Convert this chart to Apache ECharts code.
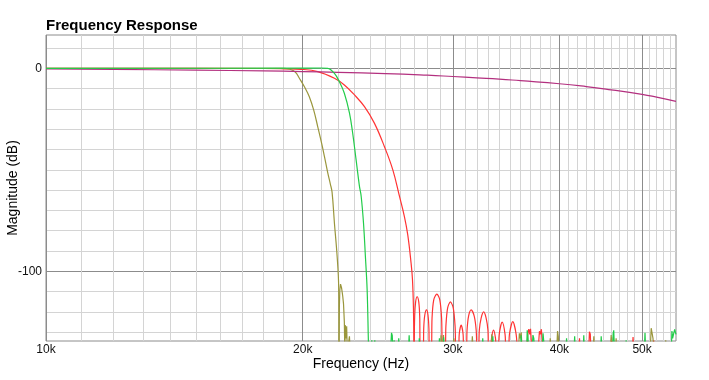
<!DOCTYPE html>
<html><head><meta charset="utf-8">
<script src="https://cdn.jsdelivr.net/npm/echarts@6/dist/echarts.min.js"></script>
<style>html,body{margin:0;padding:0;background:#fff}#c{width:709px;height:380px}</style>
</head><body><div id="c"></div>
<script>
const xMin = 10000, xMax = 54800;
const yMin = -134.3, yMax = 16.4;
const xMajorTicks = [10000, 20000, 30000, 40000, 50000];
const xMinorTicks = [11000,12000,13000,14000,15000,16000,17000,18000,19000,
  21000,22000,23000,24000,25000,26000,27000,28000,29000,
  31000,32000,33000,34000,35000,36000,37000,38000,39000,
  41000,42000,43000,44000,45000,46000,47000,48000,49000,
  51000,52000,53000,54000];
const yMajorTicks = [-100, 0];
const yMinorTicks = [10,-10,-20,-30,-40,-50,-60,-70,-80,-90,-110,-120,-130];

const magentaData = [[10000,-0.35],[12000,-0.55],[15000,-0.9],[18000,-1.3],[20000,-1.6],[22000,-2.0],[25000,-2.6],[28000,-3.4],[30000,-4.05],[32000,-4.7],[34000,-5.3],[36000,-6.1],[40000,-7.6],[43000,-9.0],[46000,-10.6],[50000,-12.8],[52000,-14.2],[54800,-16.3]];

const oliveMain = [[10000,0],[19000,0],[19300,-0.4],[19600,-1.8],[19820,-4.9],[20100,-9.2],[20360,-14],[20600,-20.5],[20830,-28.8],[21050,-37],[21210,-43.5],[21400,-51.5],[21550,-57],[21650,-61],[21790,-76.4],[21950,-92.8],[22040,-107.6],[22060,-136]];
const oliveNoise = [[22060,-136],[22080,-118],[22110,-109],[22150,-106.3],[22210,-108],[22280,-112],[22330,-116],[22380,-125],[22410,-140],[22435,-126.5],[22470,-126],[22500,-133],[22520,-127],[22560,-140],[22690,-132],[22740,-140],
  [29000,-140],[29060,-131.5],[29120,-140],[29250,-131.4],[29300,-140],[30000,-140],[30080,-133],[30150,-140],[31550,-140],[31620,-132],[31700,-140],[33250,-140],[33330,-131],[33420,-140],[35800,-140],[35900,-130.5],[35980,-133],[36080,-130],[36180,-140],[38950,-140],[39020,-133],[39100,-140],[39700,-140],[39800,-129.4],[39880,-132],[39950,-140],[43800,-140],[43900,-132],[44000,-140],[45900,-140],[46000,-131.4],[46100,-140],[46550,-140],[46620,-133],[46700,-140],[51100,-140],[51250,-128],[51400,-131],[51500,-133],[51600,-140],[53250,-140],[53300,-134],[53350,-140],[54800,-140]];

const greenMain = [[10000,0],[20000,0.05],[21000,0.15],[21400,0],[21790,-2.5],[22080,-6.6],[22380,-12.3],[22690,-22],[22890,-32],[23100,-45],[23310,-58],[23420,-63],[23570,-76.4],[23690,-92.8],[23800,-109],[23880,-134],[23900,-140]];
const greenNoise = [[23900,-140],[24050,-140],[24100,-134],[24150,-140],[24300,-134],[24350,-140],
  [25350,-140],[25420,-130.3],[25470,-131.5],[25520,-140],[25600,-134],[25650,-140],[25880,-140],[25920,-133],[25970,-140],[26600,-140],[26660,-131.5],[26720,-140],[27350,-140],[27400,-133],[27450,-140],[28880,-140],[28930,-133],[28990,-140],[29200,-140],[29260,-132.5],[29320,-140],[32450,-140],[32520,-133],[32600,-140],[33350,-140],[33420,-132],[33500,-140],[36000,-140],[36070,-131.5],[36150,-140],[36600,-140],[36670,-129],[36750,-133],[36850,-140],[37150,-140],[37240,-131.4],[37330,-133],[37400,-140],[38150,-140],[38270,-130.5],[38340,-129.8],[38450,-140],[40700,-140],[40780,-133],[40850,-140],[41600,-140],[41680,-132],[41760,-140],[42650,-140],[42720,-131.5],[42800,-140],[44700,-140],[44780,-132],[44860,-140],[46150,-140],[46250,-130.5],[46320,-129],[46420,-140],[47850,-140],[47900,-134],[47950,-140],[50300,-140],[50400,-130.2],[50500,-140],[54100,-140],[54200,-129.4],[54300,-133],[54600,-128.6],[54800,-131]];

const redMain = [[10000,0],[18000,-0.1],[19000,-0.25],[19910,-0.5],[20830,-1.6],[21790,-4.9],[22380,-8.2],[23000,-13.1],[23630,-18.9],[24270,-27],[24940,-38.6],[25510,-50],[25970,-63],[26320,-73],[26560,-82],[26800,-96],[26900,-104],[26970,-118],[27010,-140]];
const redLobes = [[27020,-140],[27060,-122],[27130,-115],[27240,-112.5],[27360,-115],[27430,-122],[27480,-140],
  [27690,-140],[27730,-128],[27810,-121.5],[27940,-119],[28050,-121.5],[28120,-128],[28160,-140],
  [28300,-140],[28360,-123],[28490,-114],[28730,-111.2],[28960,-114],[29100,-123],[29190,-140],
  [29380,-140],[29440,-127],[29580,-118],[29800,-115],[30030,-118],[30180,-127],[30270,-140],
  [30460,-140],[30520,-131],[30680,-126.5],[30840,-131],[30900,-140],
  [31100,-140],[31170,-129],[31300,-122],[31520,-119],[31780,-122],[31950,-129],[32040,-140],
  [32150,-140],[32220,-129],[32380,-123],[32600,-120],[32820,-123],[32980,-129],[33050,-140],
  [33200,-140],[33300,-133],[33480,-128.9],[33660,-133],[33750,-140],
  [33900,-140],[34000,-131],[34270,-125],[34540,-131],[34650,-140],
  [34850,-140],[34950,-131],[35270,-124.8],[35590,-131],[35700,-140]];
const redNoise = [[35700,-140],[36600,-140],[36750,-130],[36830,-128.5],[36920,-131],[37000,-128.3],[37150,-140],[37750,-140],[37900,-129.5],[37980,-131],[38100,-128.5],[38250,-140],[42150,-140],[42230,-133],[42300,-140],[43280,-140],[43380,-129.7],[43480,-131],[43560,-140],[45950,-140],[46050,-132.5],[46150,-140],[48700,-140],[48800,-132.3],[48900,-140],[51500,-140],[51600,-134],[51700,-140],[54800,-140]];

const FONT = 'Liberation Sans';
const RED = '#ff3333', OLIVE = '#9a963c', MAGENTA = '#b3307f', GREEN = '#22cc4a';
const chart = echarts.init(document.getElementById('c'), null, {renderer: 'canvas'});
const mk = (name, data, color, smooth) => ({
  name, type: 'line', data, showSymbol: false, symbol: 'none', smooth: smooth,
  clip: true, animation: false, xAxisIndex: 0, yAxisIndex: 0,
  lineStyle: {color, width: 1.2}
});
chart.setOption({
  animation: false,
  title: {text: 'Frequency Response', left: 46, top: 18, padding: 0,
    textStyle: {fontFamily: FONT, fontSize: 15, fontWeight: 'bold', color: '#000'}},
  grid: {left: 46, right: 33, top: 35, bottom: 39, show: true, borderColor: '#8c8c8c', borderWidth: 1,
    backgroundColor: 'transparent', containLabel: false, outerBoundsMode: 'none'},
  xAxis: [
    {type: 'log', min: xMin, max: xMax, position: 'bottom',
     axisLine: {show: false}, axisTick: {show: false, customValues: xMinorTicks},
     axisLabel: {show: false}, splitLine: {show: true, lineStyle: {color: '#d4d4d4', width: 1}}},
    {type: 'log', min: xMin, max: xMax, position: 'bottom',
     name: 'Frequency (Hz)', nameLocation: 'middle', nameGap: 16, nameMoveOverlap: false,
     nameTextStyle: {fontFamily: FONT, fontSize: 14, color: '#000', verticalAlign: 'top'},
     axisLine: {show: false}, axisTick: {show: false, customValues: xMajorTicks},
     axisLabel: {show: true, customValues: xMajorTicks, margin: 3, fontFamily: FONT, fontSize: 12, color: '#111',
       formatter: v => (v / 1000) + 'k'},
     splitLine: {show: true, lineStyle: {color: '#8c8c8c', width: 1}}}
  ],
  yAxis: [
    {type: 'value', min: yMin, max: yMax, position: 'left',
     axisLine: {show: false}, axisTick: {show: false, customValues: yMinorTicks},
     axisLabel: {show: false}, splitLine: {show: true, lineStyle: {color: '#d4d4d4', width: 1}}},
    {type: 'value', min: yMin, max: yMax, position: 'left',
     name: 'Magnitude (dB)', nameLocation: 'middle', nameGap: 26, nameMoveOverlap: false,
     nameTextStyle: {fontFamily: FONT, fontSize: 14, color: '#000'},
     axisLine: {show: false}, axisTick: {show: false, customValues: yMajorTicks},
     axisLabel: {show: true, customValues: yMajorTicks, margin: 4, fontFamily: FONT, fontSize: 12, color: '#111'},
     splitLine: {show: true, lineStyle: {color: '#8c8c8c', width: 1}}}
  ],
  series: [
    mk('red', redMain, RED, 0.4),
    mk('red', redLobes, RED, 0.3),
    mk('red', redNoise, RED, false),
    mk('olive', oliveMain, OLIVE, 0.4),
    mk('olive', oliveNoise, OLIVE, false),
    mk('magenta', magentaData, MAGENTA, true),
    mk('green', greenMain, GREEN, 0.4),
    mk('green', greenNoise, GREEN, false)
  ]
});
</script></body></html>
